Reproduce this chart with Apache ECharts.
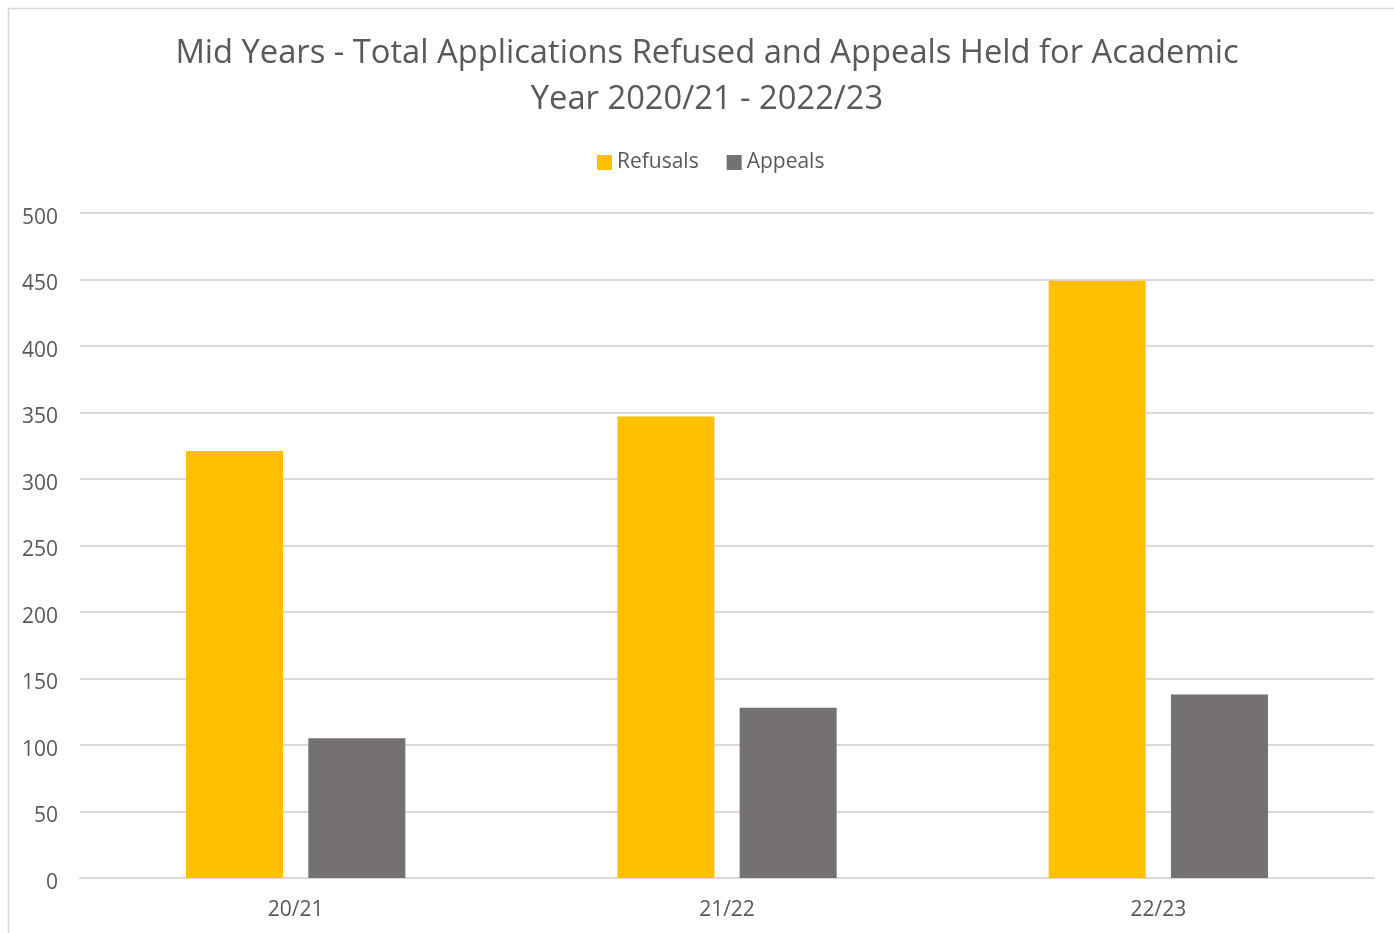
<!DOCTYPE html>
<html>
<head>
<meta charset="utf-8">
<script src="https://cdn.jsdelivr.net/npm/echarts@6/dist/echarts.min.js"></script>
<style>
  html, body { margin: 0; padding: 0; background: #fff; }
  #main { width: 1394px; height: 933px; }
</style>
</head>
<body>
<div id="main"></div>
<script>
let years = ['20/21', '21/22', '22/23'];
let refusals = [321, 347, 449];
let appeals = [105, 128, 138];
let yTicks = [0, 50, 100, 150, 200, 250, 300, 350, 400, 450, 500];

let font = 'Open Sans';
let grey = '#595959';

let chart = echarts.init(document.getElementById('main'));
chart.setOption({
    backgroundColor: '#fff',
    animation: false,
    graphic: [{
        type: 'rect',
        shape: {x: 8.5, y: 8.5, width: 1400, height: 940},
        style: {fill: 'none', stroke: '#d9d9d9', lineWidth: 1.5},
        silent: true
    }],
    title: {
        text: 'Mid Years - Total Applications Refused and Appeals Held for Academic\nYear 2020/21 - 2022/23',
        left: 702,
        textAlign: 'center',
        top: 26,
        textStyle: {
            fontFamily: font,
            fontSize: 32.7,
            fontWeight: 'normal',
            color: grey,
            lineHeight: 46
        }
    },
    legend: {
        top: 147,
        left: 592,
        itemWidth: 15,
        itemHeight: 15,
        itemGap: 28,
        icon: 'rect',
        textStyle: {fontFamily: font, fontSize: 21, color: grey}
    },
    grid: {left: 80, right: 20, top: 213, bottom: 55},
    xAxis: {
        type: 'category',
        data: years,
        axisLine: {lineStyle: {color: '#d9d9d9', width: 2}},
        axisTick: {show: false},
        axisLabel: {fontFamily: font, fontSize: 21, color: grey, margin: 22}
    },
    yAxis: {
        type: 'value',
        min: yTicks[0],
        max: yTicks[yTicks.length - 1],
        interval: 50,
        axisLine: {show: false},
        axisTick: {show: false},
        splitLine: {lineStyle: {color: '#d9d9d9', width: 2}},
        axisLabel: {fontFamily: font, fontSize: 21, color: grey, margin: 22,
            verticalAlign: 'top', lineHeight: 10}
    },
    series: [
        {
            name: 'Refusals',
            type: 'bar',
            data: refusals,
            barWidth: '22.5%',
            barGap: '26%',
            itemStyle: {color: '#ffc000'}
        },
        {
            name: 'Appeals',
            type: 'bar',
            data: appeals,
            barWidth: '22.5%',
            itemStyle: {color: '#767171'}
        }
    ]
});
</script>
</body>
</html>
